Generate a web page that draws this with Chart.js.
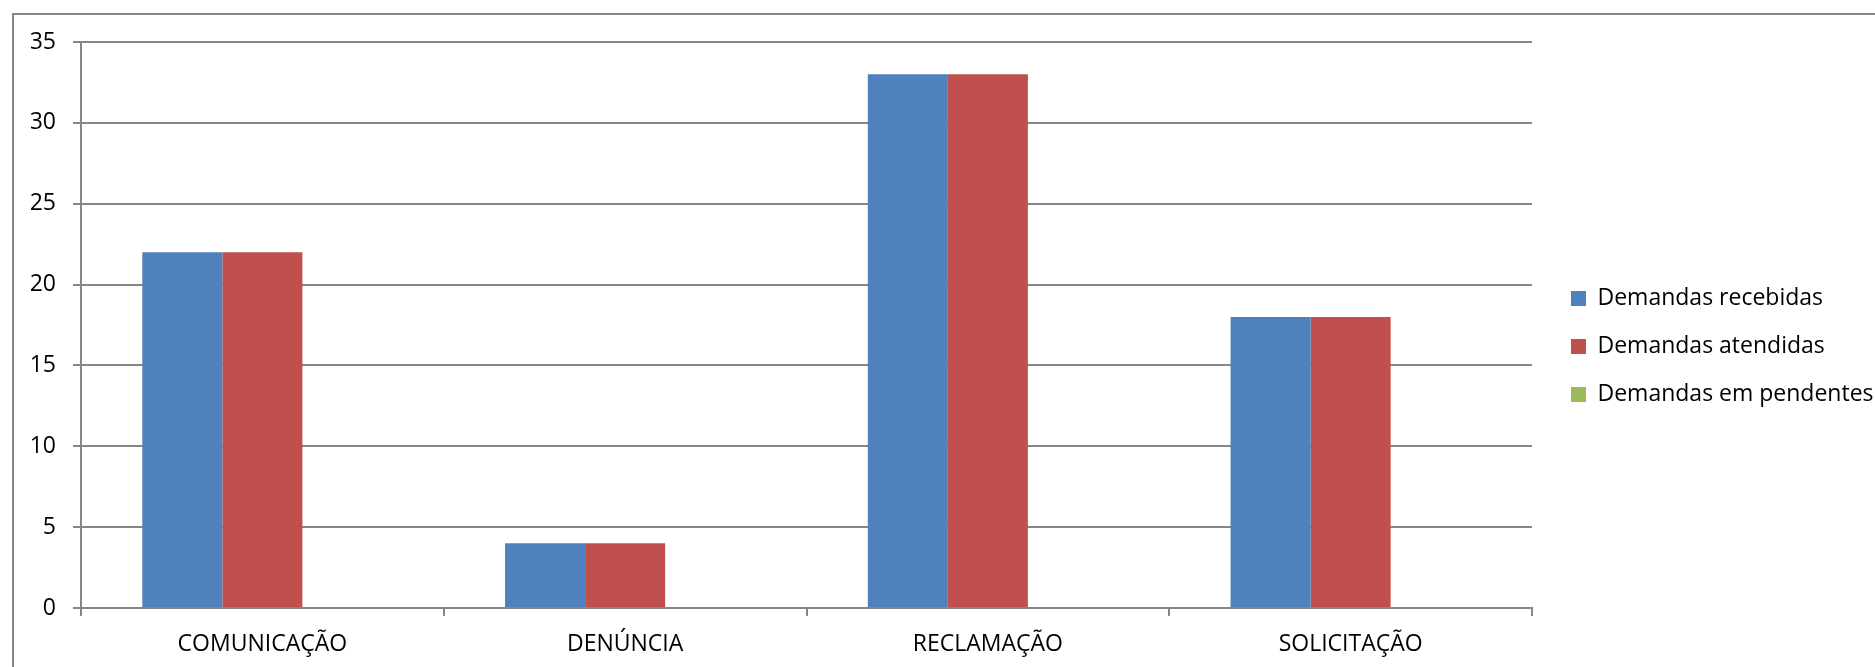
<!DOCTYPE html>
<html>
<head>
<meta charset="utf-8">
<script src="https://cdn.jsdelivr.net/npm/chart.js@4/dist/chart.umd.min.js"></script>
<style>
  html, body { margin: 0; padding: 0; background: #fff; }
  #wrap { width: 1875px; height: 667px; }
</style>
</head>
<body>
<div id="wrap"><canvas id="chart"></canvas></div>
<script>
// dados do gráfico
const categorias = ['COMUNICAÇÃO', 'DENÚNCIA', 'RECLAMAÇÃO', 'SOLICITAÇÃO'];
const recebidas = [22, 4, 33, 18];
const atendidas = [22, 4, 33, 18];
const pendentes = [0, 0, 0, 0];
const nomesSeries = ['Demandas recebidas', 'Demandas atendidas', 'Demandas em pendentes'];

const cinza = '#868686';
const fonte = { family: "'Open Sans', sans-serif", size: 23 };

// moldura externa do gráfico + afasta a legenda da área do gráfico
const moldura = {
    id: 'moldura',
    afterLayout(chart) {
        chart.legend.left += 14;
        chart.legend.right += 14;
    },
    beforeDraw(chart) {
        let ctx = chart.ctx;
        ctx.save();
        ctx.strokeStyle = cinza;
        ctx.lineWidth = 2;
        ctx.strokeRect(13, 14, chart.width + 20, chart.height + 20);
        ctx.restore();
    }
};

let ctx = document.getElementById('chart').getContext('2d');

window.bar = new Chart(ctx, {
    type: 'bar',
    data: {
        labels: categorias,
        datasets: [
            { label: nomesSeries[0], data: recebidas, backgroundColor: '#4F81BD', borderWidth: 0 },
            { label: nomesSeries[1], data: atendidas, backgroundColor: '#C0504D', borderWidth: 0 },
            { label: nomesSeries[2], data: pendentes, backgroundColor: '#9BBB59', borderWidth: 0 }
        ]
    },
    options: {
        responsive: true,
        maintainAspectRatio: false,
        animation: false,
        layout: { padding: { left: 31, top: 42, right: 0, bottom: 0 } },
        datasets: { bar: { categoryPercentage: 0.662, barPercentage: 1 } },
        plugins: {
            legend: {
                position: 'right',
                fullSize: false,
                title: { display: true, text: '', font: { size: 10, lineHeight: 1 }, padding: { top: 33, bottom: 0 } },
                labels: {
                    boxWidth: 15,
                    boxHeight: 15,
                    padding: 25,
                    color: '#000',
                    font: fonte
                }
            },
            tooltip: { enabled: false }
        },
        scales: {
            x: {
                grid: { drawOnChartArea: false, color: cinza, lineWidth: 2, tickLength: 8 },
                border: { color: cinza, width: 2 },
                ticks: { color: '#000', font: fonte, padding: 15, maxRotation: 0 },
                afterFit: function (scale) {
                    scale.height = 59;
                    // reserva espaço à direita para a legenda
                    scale.paddingRight = 343;
                }
            },
            y: {
                min: 0,
                max: 35,
                ticks: { stepSize: 5, color: '#000', font: fonte, padding: 17 },
                grid: { color: cinza, lineWidth: 2, tickLength: 8 },
                border: { color: cinza, width: 2 },
                afterFit: function (scale) { scale.width = 50; }
            }
        }
    },
    plugins: [moldura]
});
</script>
</body>
</html>
